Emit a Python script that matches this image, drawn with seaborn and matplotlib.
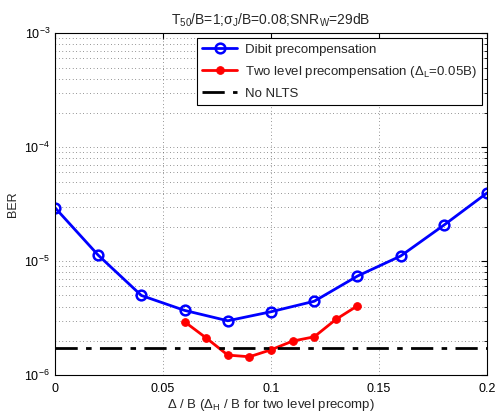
import matplotlib
matplotlib.use("Agg")
import matplotlib.pyplot as plt
import seaborn as sns
import pandas as pd
import numpy as np
from matplotlib.ticker import LogLocator, NullFormatter, FixedLocator

sns.set_style("white")
plt.rcParams['font.family'] = ['Liberation Sans', 'DejaVu Sans']
plt.rcParams['mathtext.fontset'] = 'custom'
plt.rcParams['mathtext.rm'] = 'Liberation Sans'
plt.rcParams['mathtext.it'] = 'Liberation Sans:italic'
plt.rcParams['mathtext.default'] = 'regular'

dibit_x = [0, 0.02, 0.04, 0.06, 0.08, 0.10, 0.12, 0.14, 0.16, 0.18, 0.20]
dibit_ber = [2.95e-5, 1.13e-5, 5.0e-6, 3.7e-6, 3.0e-6, 3.6e-6, 4.45e-6, 7.4e-6, 1.11e-5, 2.07e-5, 3.97e-5]
two_x = [0.06, 0.07, 0.08, 0.09, 0.10, 0.11, 0.12, 0.13, 0.14]
two_ber = [2.94e-6, 2.12e-6, 1.50e-6, 1.45e-6, 1.67e-6, 1.99e-6, 2.17e-6, 3.08e-6, 4.06e-6]
nonlts_ber = 1.72e-6
x_ticks = [0, 0.05, 0.1, 0.15, 0.2]
x_ticklabels = ['0', '0.05', '0.1', '0.15', '0.2']

df_d = pd.DataFrame({'x': dibit_x, 'ber': dibit_ber})
df_t = pd.DataFrame({'x': two_x, 'ber': two_ber})
df_n = pd.DataFrame({'x': [0, 0.2], 'ber': [nonlts_ber, nonlts_ber]})

fig = plt.figure(figsize=(4.95, 4.15), dpi=100)
ax = fig.add_axes([0.111, 0.096, 0.873, 0.824])

sns.lineplot(data=df_d, x='x', y='ber', ax=ax, color='#0000ff', lw=2,
             marker='o', markersize=7, markerfacecolor='none', markeredgecolor='#0000ff',
             markeredgewidth=1.8, label='Dibit precompensation')
sns.lineplot(data=df_t, x='x', y='ber', ax=ax, color='#ff0000', lw=2,
             marker='o', markersize=5.5, markerfacecolor='#ff0000', markeredgecolor='#ff0000',
             label=r'Two level precompensation ($\Delta_L$=0.05B)')
sns.lineplot(data=df_n, x='x', y='ber', ax=ax, color='black', lw=2,
             linestyle=(0, (8, 3, 2, 3)), label='No NLTS')

ax.set_yscale('log')
ax.set_xlim(0, 0.2)
ax.set_ylim(1e-6, 1e-3)
ax.xaxis.set_major_locator(FixedLocator(x_ticks))
ax.set_xticklabels(x_ticklabels)
ax.yaxis.set_major_locator(LogLocator(base=10, numticks=10))
ax.yaxis.set_minor_locator(LogLocator(base=10, subs=np.arange(2, 10), numticks=20))
ax.yaxis.set_minor_formatter(NullFormatter())

grid_style = dict(color='#333333', linestyle=(0, (1, 4)), linewidth=0.5)
ax.grid(True, which='major', axis='both', **grid_style)
ax.grid(True, which='minor', axis='y', **grid_style)
ax.set_axisbelow(True)
ax.tick_params(which='both', direction='in', top=True, right=True, labelsize=9, colors='black')
ax.tick_params(axis='x', which='major', pad=6)
ax.tick_params(which='major', length=4)
ax.tick_params(which='minor', length=2)
for s in ax.spines.values():
    s.set_color('black')
    s.set_linewidth(0.8)

ax.set_xlabel(r'$\Delta$ / B ($\Delta_H$ / B for two level precomp)', fontsize=9.5, labelpad=1)
ax.set_ylabel('BER', fontsize=9, labelpad=4)
ax.set_title(r'$T_{50}$/B=1;$\sigma_J$/B=0.08;$SNR_W$=29dB', fontsize=10, pad=6)

leg = ax.legend(loc='upper right', fontsize=9.5, frameon=True, fancybox=False,
                edgecolor='black', borderaxespad=0.4, handlelength=2.6,
                borderpad=0.4, labelspacing=0.6, handletextpad=0.6, framealpha=1)
leg.get_frame().set_linewidth(0.8)

fig.savefig('out.png', dpi=100)
